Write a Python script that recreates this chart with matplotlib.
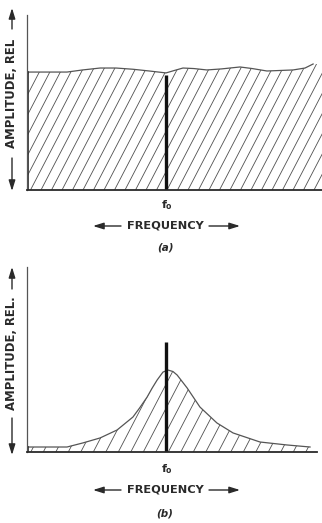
#!/usr/bin/env python3
"""Flat vs. resonant amplitude spectrum sketch, panels (a) and (b)."""

import matplotlib
matplotlib.use('Agg')
import matplotlib.pyplot as plt
from matplotlib.patches import Polygon, FancyArrowPatch
from matplotlib.collections import LineCollection
import numpy as np

# ── data (frequency in arbitrary units, f0 = 5) ─────────────────────────
f0 = 5.0

flat_freq = [0.04, 0.7, 1.44, 2.0, 2.63, 3.2, 3.81, 4.4, 5.0, 5.3, 5.61,
             6.0, 6.47, 7.0, 7.66, 8.1, 8.63, 9.1, 9.57, 10.0, 10.29]
flat_amp = [0.674, 0.674, 0.674, 0.686, 0.697, 0.697, 0.690, 0.680, 0.669,
            0.683, 0.697, 0.694, 0.686, 0.692, 0.703, 0.694, 0.680, 0.683,
            0.686, 0.697, 0.720]
flat_marker = 0.657

peak_freq = [0.04, 1.44, 2.01, 2.63, 3.24, 3.81, 4.05, 4.32, 4.50, 4.68,
             4.89, 5.07, 5.25, 5.40, 5.76, 6.22, 6.83, 7.41, 8.38, 9.35,
             10.18]
peak_amp = [0.027, 0.027, 0.049, 0.076, 0.119, 0.189, 0.238, 0.297, 0.345,
            0.389, 0.432, 0.443, 0.435, 0.416, 0.346, 0.243, 0.157, 0.103,
            0.054, 0.038, 0.027]
peak_marker = 0.595

W, H = 322, 523
INK = '#2a2a2a'
HATCH = '#505050'

fig = plt.figure(figsize=(W / 100, H / 100), dpi=100)
fig.patch.set_facecolor('white')


def px_rect(x0, y_top, x1, y_bot):
    return [x0 / W, 1 - y_bot / H, (x1 - x0) / W, (y_bot - y_top) / H]


def fpx(x, y):
    return (x / W, 1 - y / H)


def panel(box, xmax, fx, fy, fill_end, marker, spacing_px):
    ax = fig.add_axes(box)
    ax.set_xlim(0, xmax)
    ax.set_ylim(0, 1)
    for s in ('top', 'right'):
        ax.spines[s].set_visible(False)
    ax.spines['left'].set_color('#555555')
    ax.spines['left'].set_linewidth(0.9)
    ax.spines['bottom'].set_color(INK)
    ax.spines['bottom'].set_linewidth(1.3)
    ax.set_xticks([])
    ax.set_yticks([])

    fx = list(fx)
    fy = list(fy)
    if fill_end:
        px_ = fx + [xmax]
        py_ = fy + [fy[-1]]
    else:
        px_, py_ = fx, fy
    verts = [(px_[0], 0)] + list(zip(px_, py_)) + [(px_[-1], 0)]
    poly = Polygon(verts, closed=True, facecolor='white', edgecolor='none')
    ax.add_patch(poly)

    # diagonal hatching clipped to the filled area
    bb = ax.get_position()
    xu = bb.width * W / xmax     # px per x unit
    yu = bb.height * H           # px per y unit
    slope = 0.52                 # dx/dy in pixels
    step = spacing_px / xu
    dx_full = slope * yu / xu
    starts = np.arange(-dx_full, xmax + step, step)
    segs = [[(s, 0), (s + dx_full, 1)] for s in starts]
    lc = LineCollection(segs, colors=HATCH, linewidths=0.6)
    ax.add_collection(lc)
    lc.set_clip_path(poly)

    ax.plot(fx, fy, color='#555555', lw=0.9)
    ax.plot([fx[0], fx[0]], [0, fy[0]], color=INK, lw=1.2)
    ax.plot([f0, f0], [0, marker], color='#111111', lw=2.4,
            solid_capstyle='butt')
    return ax


ax1 = panel(px_rect(27, 15, 322, 190), 10.61, flat_freq, flat_amp, True,
            flat_marker, 10.5)
ax2 = panel(px_rect(27, 267, 317, 452), 10.43, peak_freq, peak_amp, False,
            peak_marker, 12.5)

font = dict(family='DejaVu Sans', fontweight='bold', color=INK)
ap = dict(arrowstyle='-|>,head_length=0.9,head_width=0.28', color=INK,
          lw=1.0, mutation_scale=7, shrinkA=0, shrinkB=0)


def arrow(p0, p1):
    fig.add_artist(FancyArrowPatch(fpx(*p0), fpx(*p1),
                                   transform=fig.transFigure, **ap))


def ylabel(xc, y_text_top, y_text_bot, y_arrow_top, y_arrow_bot, txt):
    yc = (y_text_top + y_text_bot) / 2
    fig.text(*fpx(xc, yc), txt, rotation=90, ha='center', va='center',
             fontsize=8.4, **font)
    arrow((xc, y_text_top - 3), (xc, y_arrow_top))
    arrow((xc, y_text_bot + 3), (xc, y_arrow_bot))


def xlabel(y_f0, y_freq, y_tag, tag):
    fig.text(*fpx(167, y_f0), r'$\mathbf{f_o}$', ha='center', va='center',
             fontsize=8, color=INK)
    fig.text(*fpx(165, y_freq), 'FREQUENCY', ha='center', va='center',
             fontsize=8.2, **font)
    arrow((121, y_freq), (93, y_freq))
    arrow((209, y_freq), (240, y_freq))
    fig.text(*fpx(165, y_tag), tag, ha='center', va='center', fontsize=7.5,
             fontstyle='italic', **font)


ylabel(12, 32, 155, 8, 191, 'AMPLITUDE, REL')
ylabel(12, 292, 415, 267, 455, 'AMPLITUDE, REL.')
xlabel(205, 226, 247, '(a)')
xlabel(469, 490, 513, '(b)')

plt.savefig('out.png', dpi=100, facecolor='white')
plt.close()
print('Saved out.png')
